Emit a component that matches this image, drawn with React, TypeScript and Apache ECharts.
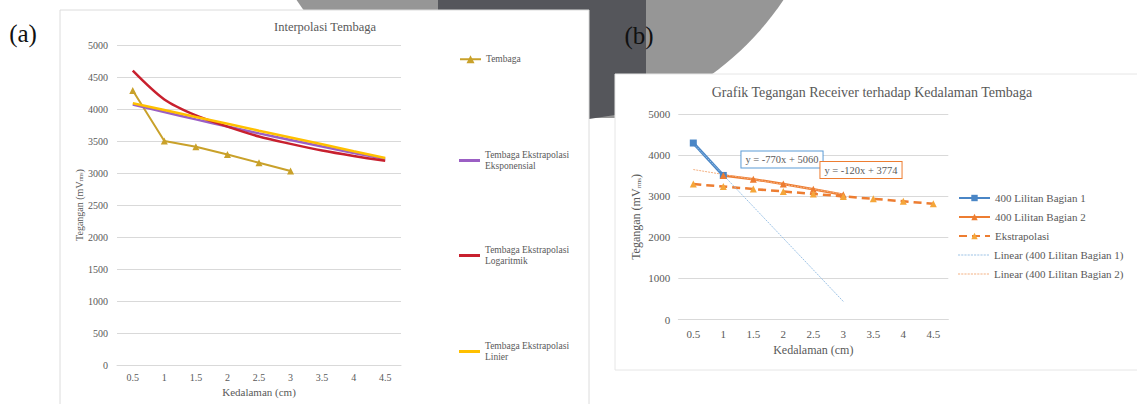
import React, { useEffect, useRef } from 'react';
import * as echarts from 'echarts';

// ---- data ----
const depthCategories = ['0.5', '1', '1.5', '2', '2.5', '3', '3.5', '4', '4.5'];

// panel (a)
const tembaga = [4290, 3500, 3410, 3290, 3160, 3030, null, null, null];
const ekstrapolasiEksponensial = [4070, 3952, 3838, 3727, 3619, 3515, 3413, 3314, 3218];
const ekstrapolasiLogaritmik = [4600, 4150, 3900, 3725, 3570, 3455, 3350, 3265, 3190];
const ekstrapolasiLinier = [4090, 3985, 3875, 3770, 3660, 3555, 3450, 3340, 3235];

// panel (b)
const lilitanBagian1 = [4300, 3510, null, null, null, null, null, null, null];
const lilitanBagian2 = [null, 3510, 3420, 3300, 3175, 3040, null, null, null];
const ekstrapolasi = [3300, 3240, 3180, 3120, 3060, 3000, 2940, 2880, 2820];
const linearBagian1 = [4290, 3520, 2750, 1980, 1210, 440, null, null, null];
const linearBagian2 = [3654, 3534, 3414, 3294, 3174, 3054, null, null, null];

const equationB1 = 'y = -770x + 5060';
const equationB2 = 'y = -120x + 3774';

const FONT = '"Liberation Serif", "Times New Roman", serif';
const TXT = '#595959';
const GRID = '#d9d9d9';
const DOTTED_ICON =
  'path://M0,0h2v1h-2zM3,0h2v1h-2zM6,0h2v1h-2zM9,0h2v1h-2zM12,0h2v1h-2zM15,0h2v1h-2zM18,0h2v1h-2zM21,0h2v1h-2zM24,0h2v1h-2zM27,0h2v1h-2z';

export default function App() {
  const ref = useRef<HTMLDivElement>(null);
  useEffect(() => {
    if (!ref.current) return;
    const chart = echarts.init(ref.current, undefined, { renderer: 'svg' });
    const nameA = {
      t: 'Tembaga',
      e: 'Tembaga Ekstrapolasi Eksponensial',
      l: 'Tembaga Ekstrapolasi Logaritmik',
      n: 'Tembaga Ekstrapolasi Linier',
    };
    const nameB = [
      '400 Lilitan Bagian 1',
      '400 Lilitan Bagian 2',
      'Ekstrapolasi',
      'Linear (400 Lilitan Bagian 1)',
      'Linear (400 Lilitan Bagian 2)',
    ];
    const legA = (name: string, top: number, plain: boolean) => ({
      data: [plain ? { name, icon: 'rect' } : name],
      left: 454,
      top,
      orient: 'vertical',
      itemWidth: 21,
      itemHeight: plain ? 3 : 10,
      selectedMode: false,
      formatter: (n: string) => n.replace('Ekstrapolasi ', 'Ekstrapolasi\n'),
      textStyle: { fontFamily: FONT, fontSize: 9.5, color: TXT, lineHeight: 10.5 },
    });
    const labelFmt = (v: number) => String(v);
    const option: any = {
      animation: false,
      backgroundColor: '#ffffff',
      graphic: [
        { type: 'circle', z: -20, shape: { cx: 540, cy: -163, r: 293 }, style: { fill: '#969696' } },
        { type: 'rect', z: -19, shape: { x: 589, y: 118, width: 26, height: 300 }, style: { fill: '#ffffff' } },
        {
          type: 'polygon', z: -18,
          shape: { points: [[438, 0], [646, 0], [646, 110], [615, 115], [589, 119], [589, 10], [438, 10]] },
          style: { fill: '#55565b' },
        },
        { type: 'rect', z: -17, shape: { x: 60, y: 10, width: 529, height: 400 }, style: { fill: '#ffffff', stroke: '#dcdcdc', lineWidth: 1 } },
        { type: 'rect', z: -17, shape: { x: 615, y: 74, width: 540, height: 296 }, style: { fill: '#ffffff', stroke: '#e6e6e6', lineWidth: 1 } },
        { type: 'text', z: 50, x: 23, y: 33, style: { text: '(a)', font: `25px ${FONT}`, fill: '#111111', align: 'center', verticalAlign: 'middle' } },
        { type: 'text', z: 50, x: 639, y: 35, style: { text: '(b)', font: `25px ${FONT}`, fill: '#111111', align: 'center', verticalAlign: 'middle' } },
        { type: 'text', z: 50, x: 325, y: 27, style: { text: 'Interpolasi Tembaga', font: `12.5px ${FONT}`, fill: TXT, align: 'center', verticalAlign: 'middle' } },
        { type: 'text', z: 50, x: 872, y: 92, style: { text: 'Grafik Tegangan Receiver terhadap Kedalaman Tembaga', font: `14px ${FONT}`, fill: TXT, align: 'center', verticalAlign: 'middle' } },
        {
          type: 'text', z: 50, x: 782, y: 159.5,
          style: { text: equationB1, font: `10.5px ${FONT}`, fill: TXT, align: 'center', verticalAlign: 'middle', backgroundColor: '#ffffff', borderColor: '#5b9bd5', borderWidth: 1, padding: [3, 4, 2, 4] },
        },
        {
          type: 'text', z: 50, x: 861, y: 170,
          style: { text: equationB2, font: `10.5px ${FONT}`, fill: TXT, align: 'center', verticalAlign: 'middle', backgroundColor: '#ffffff', borderColor: '#ed7d31', borderWidth: 1, padding: [3, 4, 2, 4] },
        },
      ],
      legend: [
        legA(nameA.t, 49, false),
        legA(nameA.e, 145, true),
        legA(nameA.l, 240, true),
        legA(nameA.n, 336, true),
        {
          data: nameB.slice(0, 3),
          left: 953,
          top: 187,
          orient: 'vertical',
          itemWidth: 31,
          itemHeight: 8,
          itemGap: 7,
          selectedMode: false,
          textStyle: { fontFamily: FONT, fontSize: 11, color: TXT, lineHeight: 12 },
        },
        {
          data: nameB.slice(3).map((name) => ({ name, icon: DOTTED_ICON })),
          left: 953,
          top: 244,
          orient: 'vertical',
          itemWidth: 31,
          itemHeight: 1.2,
          itemGap: 7,
          selectedMode: false,
          textStyle: { fontFamily: FONT, fontSize: 11, color: TXT, lineHeight: 12 },
        },
      ],
      grid: [
        { left: 117, top: 45, width: 284, height: 320 },
        { left: 678.3, top: 114.3, width: 270, height: 205.2 },
      ],
      xAxis: [
        {
          gridIndex: 0, type: 'category', data: depthCategories, boundaryGap: true,
          axisLine: { lineStyle: { color: GRID } }, axisTick: { show: false },
          axisLabel: { fontFamily: FONT, fontSize: 10, color: TXT, margin: 7 },
          name: 'Kedalaman (cm)', nameLocation: 'middle', nameGap: 19,
          nameTextStyle: { fontFamily: FONT, fontSize: 11, color: TXT },
        },
        {
          gridIndex: 1, type: 'category', data: depthCategories, boundaryGap: true,
          axisLine: { lineStyle: { color: GRID } }, axisTick: { show: false },
          axisLabel: { fontFamily: FONT, fontSize: 11, color: TXT, margin: 9 },
          name: 'Kedalaman (cm)', nameLocation: 'middle', nameGap: 24,
          nameTextStyle: { fontFamily: FONT, fontSize: 12, color: TXT },
        },
      ],
      yAxis: [
        {
          gridIndex: 0, type: 'value', min: 0, max: 5000, interval: 500,
          axisLine: { show: false }, axisTick: { show: false },
          splitLine: { lineStyle: { color: GRID } },
          axisLabel: { fontFamily: FONT, fontSize: 10, color: TXT, margin: 9, formatter: labelFmt },
          name: '{a|Tegangan (mV}{b|rms}{a|)}', nameLocation: 'middle', nameGap: 32,
          nameTextStyle: {
            rich: {
              a: { fontFamily: FONT, fontSize: 10, color: TXT },
              b: { fontFamily: FONT, fontSize: 6, color: TXT, verticalAlign: 'bottom', padding: [4, 0, 0, 0] },
            },
          },
        },
        {
          gridIndex: 1, type: 'value', min: 0, max: 5000, interval: 1000,
          axisLine: { show: false }, axisTick: { show: false },
          splitLine: { lineStyle: { color: GRID } },
          axisLabel: { fontFamily: FONT, fontSize: 11, color: TXT, margin: 8, formatter: labelFmt },
          name: '{a|Tegangan (mV}{b|rms}{a|)}', nameLocation: 'middle', nameGap: 36,
          nameTextStyle: {
            rich: {
              a: { fontFamily: FONT, fontSize: 12, color: TXT },
              b: { fontFamily: FONT, fontSize: 7, color: TXT, verticalAlign: 'bottom', padding: [5, 0, 0, 0] },
            },
          },
        },
      ],
      series: [
        {
          name: nameA.t, type: 'line', xAxisIndex: 0, yAxisIndex: 0, data: tembaga,
          symbol: 'triangle', symbolSize: 7, color: '#c9a12a',
          lineStyle: { width: 2, color: '#c9a12a' }, itemStyle: { color: '#c9a12a' },
        },
        {
          name: nameA.e, type: 'line', xAxisIndex: 0, yAxisIndex: 0, data: ekstrapolasiEksponensial,
          symbol: 'none', smooth: 0.3, color: '#9b5fc4', itemStyle: { color: '#9b5fc4' }, lineStyle: { width: 2.5, color: '#9b5fc4' },
        },
        {
          name: nameA.l, type: 'line', xAxisIndex: 0, yAxisIndex: 0, data: ekstrapolasiLogaritmik,
          symbol: 'none', smooth: 0.3, color: '#c8202e', itemStyle: { color: '#c8202e' }, lineStyle: { width: 2.5, color: '#c8202e' },
        },
        {
          name: nameA.n, type: 'line', xAxisIndex: 0, yAxisIndex: 0, data: ekstrapolasiLinier,
          symbol: 'none', color: '#ffc000', itemStyle: { color: '#ffc000' }, lineStyle: { width: 2.5, color: '#ffc000' },
        },
        {
          name: nameB[0], type: 'line', xAxisIndex: 1, yAxisIndex: 1, data: lilitanBagian1,
          symbol: 'rect', symbolSize: 7, color: '#4a86c6',
          lineStyle: { width: 3, color: '#4a86c6' }, itemStyle: { color: '#4a86c6' },
        },
        {
          name: nameB[1], type: 'line', xAxisIndex: 1, yAxisIndex: 1, data: lilitanBagian2,
          symbol: 'triangle', symbolSize: 7, color: '#ed7d31',
          lineStyle: { width: 2.5, color: '#ed7d31' }, itemStyle: { color: '#ed7d31' },
        },
        {
          name: nameB[2], type: 'line', xAxisIndex: 1, yAxisIndex: 1, data: ekstrapolasi,
          symbol: 'triangle', symbolSize: 7, color: '#ed7d31',
          lineStyle: { width: 2.5, color: '#ed7d31', type: [8, 5] }, itemStyle: { color: '#f5a63a' },
        },
        {
          name: nameB[3], type: 'line', xAxisIndex: 1, yAxisIndex: 1, data: linearBagian1,
          symbol: 'none', color: '#9dc3e6', itemStyle: { color: '#9dc3e6' }, lineStyle: { width: 1, color: '#9dc3e6', type: [2, 1] },
        },
        {
          name: nameB[4], type: 'line', xAxisIndex: 1, yAxisIndex: 1, data: linearBagian2,
          symbol: 'none', color: '#f4b183', itemStyle: { color: '#f4b183' }, lineStyle: { width: 1, color: '#f4b183', type: [2, 1] },
        },
      ],
    };
    chart.setOption(option);
    return () => chart.dispose();
  }, []);
  return (
    <div
      ref={ref}
      style={{ position: 'fixed', left: 0, top: 0, width: 1137, height: 404 }}
    />
  );
}
